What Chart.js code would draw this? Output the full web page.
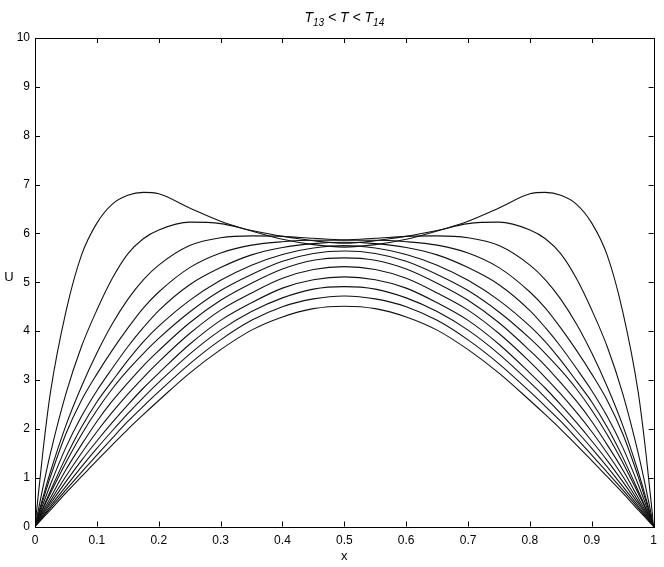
<!DOCTYPE html>
<html>
<head>
<meta charset="utf-8">
<script src="https://cdn.jsdelivr.net/npm/chart.js@4.4.1/dist/chart.umd.min.js"></script>
<style>
  html, body { margin: 0; padding: 0; background: #fff; }
  #wrap { width: 664px; height: 567px; }
</style>
</head>
<body>
<div id="wrap"><canvas id="chart" width="664" height="567"></canvas></div>
<script>
// x positions shared by every profile
const xs = [0, 0.0125, 0.025, 0.05, 0.075, 0.1, 0.125, 0.15, 0.175, 0.2, 0.25, 0.3, 0.35, 0.4, 0.45, 0.5,
            0.55, 0.6, 0.65, 0.7, 0.75, 0.8, 0.825, 0.85, 0.875, 0.9, 0.925, 0.95, 0.975, 0.9875, 1]

// U profiles, lowest to highest
const u1  = [0, 0.17, 0.34, 0.69, 1.02, 1.35, 1.67, 1.99, 2.29, 2.58, 3.14, 3.62, 4.02, 4.29, 4.46, 4.51,
             4.46, 4.29, 4.02, 3.62, 3.14, 2.58, 2.29, 1.99, 1.67, 1.35, 1.02, 0.69, 0.34, 0.17, 0]
const u2  = [0, 0.19, 0.38, 0.75, 1.11, 1.46, 1.81, 2.15, 2.46, 2.76, 3.33, 3.82, 4.22, 4.50, 4.66, 4.72,
             4.66, 4.50, 4.22, 3.82, 3.33, 2.76, 2.46, 2.15, 1.81, 1.46, 1.11, 0.75, 0.38, 0.19, 0]
const u3  = [0, 0.21, 0.42, 0.82, 1.22, 1.60, 1.96, 2.31, 2.64, 2.95, 3.53, 4.02, 4.40, 4.68, 4.86, 4.91,
             4.86, 4.68, 4.40, 4.02, 3.53, 2.95, 2.64, 2.31, 1.96, 1.60, 1.22, 0.82, 0.42, 0.21, 0]
const u4  = [0, 0.24, 0.47, 0.92, 1.35, 1.75, 2.13, 2.49, 2.83, 3.14, 3.73, 4.22, 4.58, 4.88, 5.05, 5.11,
             5.05, 4.88, 4.58, 4.22, 3.73, 3.14, 2.83, 2.49, 2.13, 1.75, 1.35, 0.92, 0.47, 0.24, 0]
const u5  = [0, 0.27, 0.52, 1.03, 1.50, 1.94, 2.34, 2.71, 3.05, 3.37, 3.95, 4.43, 4.78, 5.08, 5.26, 5.32,
             5.26, 5.08, 4.78, 4.43, 3.95, 3.37, 3.05, 2.71, 2.34, 1.94, 1.50, 1.03, 0.52, 0.27, 0]
const u6  = [0, 0.30, 0.59, 1.16, 1.67, 2.15, 2.57, 2.94, 3.29, 3.60, 4.17, 4.63, 4.98, 5.27, 5.45, 5.50,
             5.45, 5.27, 4.98, 4.63, 4.17, 3.60, 3.29, 2.94, 2.57, 2.15, 1.67, 1.16, 0.59, 0.30, 0]
const u7  = [0, 0.35, 0.68, 1.31, 1.88, 2.38, 2.82, 3.20, 3.54, 3.85, 4.39, 4.83, 5.16, 5.43, 5.59, 5.64,
             5.59, 5.43, 5.16, 4.83, 4.39, 3.85, 3.54, 3.20, 2.82, 2.38, 1.88, 1.31, 0.68, 0.35, 0]
const u8  = [0, 0.37, 0.73, 1.42, 2.03, 2.55, 2.98, 3.40, 3.78, 4.10, 4.63, 5.04, 5.35, 5.57, 5.70, 5.75,
             5.70, 5.57, 5.35, 5.04, 4.63, 4.10, 3.78, 3.40, 2.98, 2.55, 2.03, 1.42, 0.73, 0.37, 0]
const u9  = [0, 0.44, 0.86, 1.62, 2.25, 2.78, 3.24, 3.68, 4.07, 4.42, 4.95, 5.30, 5.56, 5.71, 5.79, 5.82,
             5.79, 5.71, 5.56, 5.30, 4.95, 4.42, 4.07, 3.68, 3.24, 2.78, 2.25, 1.62, 0.86, 0.44, 0]
const u10 = [0, 0.52, 1.02, 1.90, 2.58, 3.12, 3.61, 4.06, 4.47, 4.80, 5.30, 5.60, 5.76, 5.83, 5.86, 5.86,
             5.86, 5.83, 5.76, 5.60, 5.30, 4.80, 4.47, 4.06, 3.61, 3.12, 2.58, 1.90, 1.02, 0.52, 0]
const u11 = [0, 0.58, 1.12, 2.07, 2.86, 3.55, 4.15, 4.65, 5.05, 5.35, 5.75, 5.91, 5.95, 5.94, 5.90, 5.87,
             5.90, 5.94, 5.95, 5.91, 5.75, 5.35, 5.05, 4.65, 4.15, 3.55, 2.86, 2.07, 1.12, 0.58, 0]
const u12 = [0, 0.78, 1.50, 2.72, 3.68, 4.43, 5.08, 5.58, 5.89, 6.07, 6.23, 6.20, 6.06, 5.94, 5.85, 5.80,
             5.85, 5.94, 6.06, 6.20, 6.23, 6.07, 5.89, 5.58, 5.08, 4.43, 3.68, 2.72, 1.50, 0.78, 0]
const u13 = [0, 1.50, 2.75, 4.40, 5.55, 6.21, 6.60, 6.78, 6.84, 6.81, 6.52, 6.25, 6.05, 5.88, 5.77, 5.72,
             5.77, 5.88, 6.05, 6.25, 6.52, 6.81, 6.84, 6.78, 6.60, 6.21, 5.55, 4.40, 2.75, 1.50, 0]

const profiles = [u1, u2, u3, u4, u5, u6, u7, u8, u9, u10, u11, u12, u13]

// axis ticks
const xTicks = [0, 0.1, 0.2, 0.3, 0.4, 0.5, 0.6, 0.7, 0.8, 0.9, 1]
const yTicks = [0, 1, 2, 3, 4, 5, 6, 7, 8, 9, 10]

const font = '"Liberation Sans", Arial, sans-serif'

const matlabBox = {
    id: 'matlabBox',
    afterDatasetsDraw(chart) {
        const ctx = chart.ctx
        const a = chart.chartArea
        const sx = chart.scales.x
        const sy = chart.scales.y
        const len = 5
        ctx.save()
        ctx.strokeStyle = '#000'
        ctx.lineWidth = 1
        ctx.beginPath()
        xTicks.forEach(v => {
            const px = Math.round(sx.getPixelForValue(v)) + 0.5
            ctx.moveTo(px, a.bottom); ctx.lineTo(px, a.bottom - len)
            ctx.moveTo(px, a.top); ctx.lineTo(px, a.top + len)
        })
        yTicks.forEach(v => {
            const py = Math.round(sy.getPixelForValue(v)) + 0.5
            ctx.moveTo(a.left, py); ctx.lineTo(a.left + len, py)
            ctx.moveTo(a.right, py); ctx.lineTo(a.right - len, py)
        })
        ctx.stroke()
        ctx.strokeRect(Math.round(a.left) + 0.5, Math.round(a.top) + 0.5,
                       Math.round(a.right - a.left), Math.round(a.bottom - a.top))

        // axis labels
        ctx.fillStyle = '#000'
        ctx.font = '13px ' + font
        ctx.textAlign = 'center'
        ctx.textBaseline = 'middle'
        ctx.fillText('x', (a.left + a.right) / 2, 556)
        ctx.fillText('U', 9, 277)

        // title with subscripts
        const big = 'italic 14px ' + font
        const small = 'italic 10px ' + font
        const parts = [['T', big, 0], ['13', small, 4], [' < T < ', big, 0], ['T', big, 0], ['14', small, 4]]
        let w = 0
        parts.forEach(p => { ctx.font = p[1]; w += ctx.measureText(p[0]).width })
        let x = (a.left + a.right) / 2 - w / 2
        ctx.textAlign = 'left'
        ctx.textBaseline = 'alphabetic'
        parts.forEach(p => {
            ctx.font = p[1]
            ctx.fillText(p[0], x, 22 + p[2])
            x += ctx.measureText(p[0]).width
        })
        ctx.restore()
    }
}

const datasets = profiles.map((u, i) => ({
    label: 'U' + (i + 1),
    data: xs.map((x, j) => ({ x: x, y: u[j] })),
    borderColor: '#111',
    borderWidth: 1.1,
    pointRadius: 0,
    showLine: true,
    fill: false,
    cubicInterpolationMode: 'monotone'
}))

new Chart(document.getElementById('chart'), {
    type: 'scatter',
    data: { datasets: datasets },
    plugins: [matlabBox],
    options: {
        responsive: false,
        animation: false,
        layout: { padding: { left: 0, right: 9, top: 38, bottom: 0 } },
        plugins: { legend: { display: false }, tooltip: { enabled: false }, title: { display: false } },
        scales: {
            x: {
                type: 'linear', min: 0, max: 1,
                afterFit(scale) { scale.height = 40.5 },
                afterBuildTicks(scale) { scale.ticks = xTicks.map(v => ({ value: v })) },
                grid: { display: false, drawTicks: false },
                border: { display: false },
                ticks: {
                    color: '#000', padding: 7,
                    font: { family: font, size: 12 },
                    callback: v => String(v)
                }
            },
            y: {
                type: 'linear', min: 0, max: 10,
                afterFit(scale) { scale.width = 35 },
                afterBuildTicks(scale) { scale.ticks = yTicks.map(v => ({ value: v })) },
                grid: { display: false, drawTicks: false },
                border: { display: false },
                ticks: {
                    color: '#000', padding: 5,
                    font: { family: font, size: 12 },
                    callback: v => String(v)
                }
            }
        }
    }
})
</script>
</body>
</html>
